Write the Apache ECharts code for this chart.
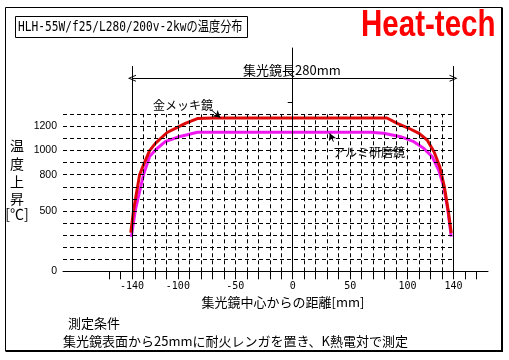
<!DOCTYPE html>
<html><head><meta charset="utf-8">
<script src="https://cdn.jsdelivr.net/npm/echarts@6/dist/echarts.min.js"></script>
<style>html,body{margin:0;padding:0;background:#fff}#c{width:509px;height:360px}</style>
</head><body><div id="c"></div>
<script>
// ---- data ----
const titleText = 'HLH-55W/f25/L280/200v-2kwの温度分布';
const goldName = '金メッキ鏡';
const aluName = 'アルミ研磨鏡';
const goldData = [[-141,320],[-138.5,510],[-133.3,800],[-130,880],[-124.6,1000],[-119.6,1060],[-109.4,1150],[-100,1195],[-93.5,1226],[-83,1265],[-70,1270],[0,1270],[82,1270],[91,1226],[101,1185],[110,1143],[117,1088],[123,990],[128,867],[132,700],[135.3,508],[138,317]];
const aluData = [[-140.5,285],[-137,508],[-133,673],[-130,798],[-124.6,950],[-119.6,1005],[-111,1074],[-99,1115],[-83,1152],[0,1152],[68,1152],[79,1143],[94,1115],[105.4,1074],[114,1019],[121.4,950],[127,839],[131.5,701],[135,508],[138,287]];
const xTickValues = [-160,-150,-140,-130,-120,-110,-100,-90,-80,-70,-60,-50,-40,-30,-20,-10,0,10,20,30,40,50,60,70,80,90,100,110,120,130,140,150,160];
const xLabelValues = [-140,-100,-50,0,50,100,140];
const yTickValues = [0,500,800,1000,1200,1400];
const yLabelValues = [0,500,800,1000,1200];
const hGridValues = [100,200,300,400,500,600,700,800,900,1000,1100,1200,1300];
const vGridValues = [-130,-120,-110,-100,-90,-80,-70,-60,-50,-40,-30,-20,-10,10,20,30,40,50,60,70,80,90,100,110,120,130];
const mirrorEdges = [-140,140];
const mirrorLengthLabel = '集光鏡長280mm';
const xName = '集光鏡中心からの距離[mm]';
const yNameChars = ['温','度','上','昇','[℃]'];
const note1 = '測定条件';
const note2 = '集光鏡表面から25mmに耐火レンガを置き、K熱電対で測定';
const brand = 'Heat-tech';

// ---- chart ----
const JP = "'Noto Sans CJK JP', sans-serif";
const chart = echarts.init(document.getElementById('c'), null, {renderer:'canvas'});
const dashed = {color:'#000', width:1, type:[4,3]};
const solid = {color:'#000', width:1, type:'solid'};
const gridLines = [];
hGridValues.forEach(v => gridLines.push([{coord:[-200,v]},{coord:[mirrorEdges[1],v]}]));
vGridValues.forEach(v => gridLines.push([{coord:[v,0]},{coord:[v,1300]}]));
const solidLines = [
  [{coord:[mirrorEdges[0],0]},{coord:[mirrorEdges[0],1700]}],
  [{coord:[mirrorEdges[1],0]},{coord:[mirrorEdges[1],1700]}],
  [{coord:[0,0]},{coord:[0,1300]}]
];
const chevron = 'path://M0,10 L5,0 L10,10 L8.6,10 L5,2.8 L1.4,10 Z';
const annoLines = [
  [{coord:[mirrorEdges[0],1600], symbol:chevron, symbolSize:[7,8]},{coord:[mirrorEdges[1],1600], symbol:chevron, symbolSize:[7,8]}],
  [{coord:[-70.8,1336], symbol:'none'},{coord:[-63,1273], symbol:'arrow', symbolSize:[6,7]}],
  [{coord:[35.4,1074], symbol:'none'},{coord:[32.2,1143], symbol:'arrow', symbolSize:[6,7]}]
];
function ml(data, style){
  return {silent:true, symbol:['none','none'], animation:false, label:{show:false}, emphasis:{disabled:true}, lineStyle:style, data:data};
}
chart.setOption({
  animation:false,
  backgroundColor:'#fff',
  grid:{left:63, top:48, width:425, height:223.3, containLabel:false},
  xAxis:{
    type:'value', min:-200, max:170,
    axisLine:{show:true, onZero:false, lineStyle:{color:'#000', width:1}},
    axisTick:{show:true, customValues:xTickValues, length:8, lineStyle:{color:'#000'}},
    axisLabel:{customValues:xLabelValues, margin:10, fontSize:10, color:'#000', fontFamily:"'DejaVu Sans Mono', monospace", formatter:v => String(v)},
    splitLine:{show:false}
  },
  yAxis:{
    type:'value', min:0, max:1850,
    axisLine:{show:true, lineStyle:{color:'#000', width:1}},
    axisTick:{show:true, customValues:yTickValues, length:5, lineStyle:{color:'#000'}},
    axisLabel:{customValues:yLabelValues, margin:6, fontSize:10.5, color:'#000', fontFamily:"'Liberation Sans', sans-serif", formatter:v => String(v)},
    splitLine:{show:false}
  },
  series:[
    {type:'line', data:[[0,0]], showSymbol:false, lineStyle:{opacity:0}, z:1, silent:true,
     markLine:ml(gridLines, dashed)},
    {type:'line', data:[[0,0]], showSymbol:false, lineStyle:{opacity:0}, z:2, silent:true,
     markLine:ml(solidLines, solid)},
    {type:'line', name:aluName, data:aluData, showSymbol:false, smooth:false, z:3,
     lineStyle:{color:'#f018f0', width:3}},
    {type:'line', name:goldName, data:goldData, showSymbol:false, smooth:false, z:4,
     lineStyle:{color:'#dd0808', width:3}},
    {type:'line', data:[[0,0]], showSymbol:false, lineStyle:{opacity:0}, z:5, silent:true,
     markLine:ml(annoLines, solid)}
  ],
  graphic:[
    {type:'polyline', silent:true, shape:{points:[[5.5,351],[5.5,7.5],[502,7.5]]}, style:{stroke:'#000', lineWidth:1, fill:null}},
    {type:'polyline', silent:true, shape:{points:[[502,7.5],[502,351],[5.5,351]]}, style:{stroke:'#000', lineWidth:2, fill:null}},
    {type:'rect', silent:true, shape:{x:15.5, y:16.5, width:232, height:21}, style:{stroke:'#000', lineWidth:1, fill:null}},
    {type:'text', x:18, y:27.5, scaleX:0.8, style:{text:titleText, fill:'#000', font:"14px 'DejaVu Sans Mono', 'Noto Sans CJK JP', monospace", textVerticalAlign:'middle', textAlign:'left'}},
    {type:'text', x:361, y:26, scaleX:0.82, style:{text:brand, fill:'#ff0000', font:"bold 36px 'Liberation Sans', Arial, sans-serif", textVerticalAlign:'middle', textAlign:'left'}},
    {type:'text', x:153, y:105, style:{text:goldName, fill:'#000', font:"12px "+JP, textVerticalAlign:'middle'}},
    {type:'text', x:333, y:152, style:{text:aluName, fill:'#000', font:"12px "+JP, textVerticalAlign:'middle'}},
    {type:'text', x:243, y:70, style:{text:mirrorLengthLabel, fill:'#000', font:"13px "+JP, textVerticalAlign:'middle'}},
    {type:'text', x:283, y:302, style:{text:xName, fill:'#000', font:"13px "+JP, textVerticalAlign:'middle', textAlign:'center'}},
    {type:'text', x:68, y:323, style:{text:note1, fill:'#000', font:"13px "+JP, textVerticalAlign:'middle'}},
    {type:'text', x:63, y:341, style:{text:note2, fill:'#000', font:"13px "+JP, textVerticalAlign:'middle'}}
  ].concat(yNameChars.map((ch,i) => ({type:'text', x:17, y:[146,164,182,199,214][i], style:{text:ch, fill:'#000', font:"14px "+JP, textAlign:'center', textVerticalAlign:'middle'}})))
});
</script></body></html>
